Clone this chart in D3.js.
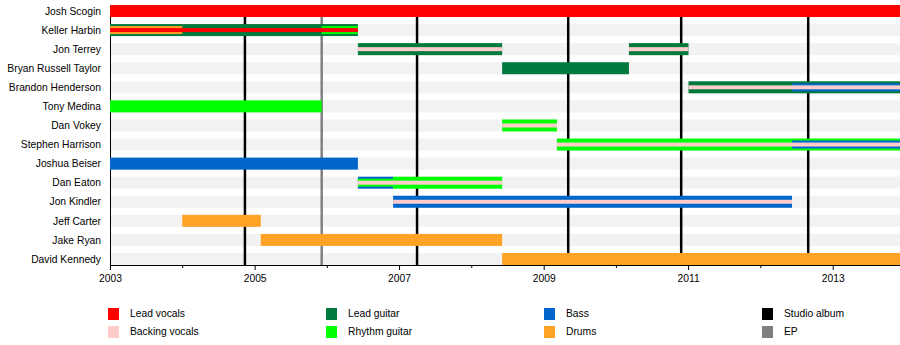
<!DOCTYPE html>
<html>
<head>
<meta charset="utf-8">
<script src="https://cdn.jsdelivr.net/npm/d3@7"></script>
<style>
html,body{margin:0;padding:0;background:#fff;}
svg{display:block;font-family:"Liberation Sans",Arial,Helvetica,sans-serif;}
</style>
</head>
<body>
<svg id="chart" width="900" height="345"></svg>
<script>
// ---- data ----
const members = ["Josh Scogin","Keller Harbin","Jon Terrey","Bryan Russell Taylor","Brandon Henderson",
  "Tony Medina","Dan Vokey","Stephen Harrison","Joshua Beiser","Dan Eaton","Jon Kindler",
  "Jeff Carter","Jake Ryan","David Kennedy"];
const roles = ["Lead vocals","Backing vocals","Lead guitar","Rhythm guitar","Bass","Drums"];
const eventTypes = ["Studio album","EP"];
const timelineStart = "2003-01-01";
const timelineEnd = "2013-12-07";
// [member, role, from, till, layer]  layer 0 = main role, 1 = secondary, 2 = tertiary
const periods = [
  ["Josh Scogin","Lead vocals","2003-01-01","2013-12-07",0],
  ["Keller Harbin","Lead guitar","2003-01-01","2006-06-07",0],
  ["Keller Harbin","Drums","2003-01-01","2004-01-01",1],
  ["Keller Harbin","Rhythm guitar","2005-12-06","2006-06-07",1],
  ["Keller Harbin","Lead vocals","2003-01-01","2006-06-07",2],
  ["Jon Terrey","Lead guitar","2006-06-07","2008-06-05",0],
  ["Jon Terrey","Backing vocals","2006-06-07","2008-06-05",2],
  ["Jon Terrey","Lead guitar","2010-03-08","2011-01-03",0],
  ["Jon Terrey","Backing vocals","2010-03-08","2011-01-03",2],
  ["Bryan Russell Taylor","Lead guitar","2008-06-05","2010-03-08",0],
  ["Brandon Henderson","Lead guitar","2011-01-03","2013-12-07",0],
  ["Brandon Henderson","Bass","2012-06-09","2013-12-07",1],
  ["Brandon Henderson","Backing vocals","2011-01-03","2013-12-07",2],
  ["Tony Medina","Rhythm guitar","2003-01-01","2005-12-06",0],
  ["Dan Vokey","Rhythm guitar","2008-06-05","2009-03-09",0],
  ["Dan Vokey","Backing vocals","2008-06-05","2009-03-09",2],
  ["Stephen Harrison","Rhythm guitar","2009-03-09","2013-12-07",0],
  ["Stephen Harrison","Bass","2012-06-09","2013-12-07",1],
  ["Stephen Harrison","Backing vocals","2009-03-09","2013-12-07",2],
  ["Joshua Beiser","Bass","2003-01-01","2006-06-07",0],
  ["Dan Eaton","Bass","2006-06-07","2006-12-02",0],
  ["Dan Eaton","Rhythm guitar","2006-06-07","2006-12-02",1],
  ["Dan Eaton","Rhythm guitar","2006-12-02","2008-06-05",0],
  ["Dan Eaton","Backing vocals","2006-06-07","2008-06-05",2],
  ["Jon Kindler","Bass","2006-12-02","2012-06-09",0],
  ["Jon Kindler","Backing vocals","2006-12-02","2012-06-09",2],
  ["Jeff Carter","Drums","2004-01-01","2005-02-01",0],
  ["Jake Ryan","Drums","2005-02-01","2008-06-05",0],
  ["David Kennedy","Drums","2008-06-05","2013-12-07",0]
];
const releases = [
  ["2004-11-13","Studio album"],
  ["2005-12-06","EP"],
  ["2007-04-02","Studio album"],
  ["2009-05-05","Studio album"],
  ["2010-11-27","Studio album"],
  ["2012-08-30","Studio album"]
];
const tickYears = [2003,2004,2005,2006,2007,2008,2009,2010,2011,2012,2013];
const labelYears = [2003,2005,2007,2009,2011,2013];

// ---- styles ----
const roleColor = d3.scaleOrdinal().domain(roles)
  .range(["#ff0000","#ffcccc","#007a3d","#00ff00","#0066cc","#ffa326"]);
const eventColor = d3.scaleOrdinal().domain(eventTypes).range(["#000000","#808080"]);
const layerHeight = [12, 8, 4];

const parse = d3.timeParse("%Y-%m-%d");
const svg = d3.select("#chart");
const plot = {left:110, right:900, top:5, bottom:265};

const x = d3.scaleTime().domain([parse(timelineStart), parse(timelineEnd)]).range([plot.left, plot.right]);
const y = d3.scaleBand().domain(members).range([plot.top, plot.bottom]).paddingInner(92/248).paddingOuter(0).align(0);

// row stripes
svg.append("g").selectAll("rect").data(members).join("rect")
  .attr("x", plot.left).attr("width", plot.right - plot.left)
  .attr("y", d => y(d)).attr("height", y.bandwidth())
  .attr("fill", "#f2f2f2");

// release lines
svg.append("g").selectAll("line").data(releases).join("line")
  .attr("x1", d => x(parse(d[0]))).attr("x2", d => x(parse(d[0])))
  .attr("y1", plot.top).attr("y2", plot.bottom)
  .attr("stroke", d => eventColor(d[1])).attr("stroke-width", 2.5);

// left axis line
svg.append("line").attr("x1", plot.left + 0.5).attr("x2", plot.left + 0.5)
  .attr("y1", plot.top).attr("y2", plot.bottom).attr("stroke", "#000");

// bars
const rowCenter = m => y(m) + y.bandwidth() / 2;
const sorted = periods.slice().sort((a, b) => a[4] - b[4]);
svg.append("g").selectAll("rect").data(sorted).join("rect")
  .attr("x", d => x(parse(d[2])))
  .attr("width", d => x(parse(d[3])) - x(parse(d[2])))
  .attr("y", d => rowCenter(d[0]) - layerHeight[d[4]] / 2)
  .attr("height", d => layerHeight[d[4]])
  .attr("fill", d => roleColor(d[1]));

// member names
svg.append("g").selectAll("text").data(members).join("text")
  .attr("x", 101).attr("y", d => rowCenter(d) + 1)
  .attr("text-anchor", "end").attr("dominant-baseline", "middle")
  .attr("font-size", 10.3).attr("fill", "#000")
  .text(d => d);

// x axis
const axis = d3.axisBottom(x)
  .tickValues(tickYears.map(yr => new Date(yr, 0, 1)))
  .tickSize(3)
  .tickFormat(d => labelYears.includes(d.getFullYear()) ? d.getFullYear() : "");
const ax = svg.append("g").attr("transform", `translate(0,${plot.bottom})`).call(axis);
ax.select(".domain").attr("d", `M${plot.left},0.5H${plot.right}`).attr("stroke", "#000");
ax.selectAll(".tick line").attr("stroke", "#000")
  .attr("y2", d => labelYears.includes(d.getFullYear()) ? 5 : 3);
ax.selectAll(".tick text").attr("font-size", 10.3).attr("fill", "#000")
  .attr("font-family", "Liberation Sans, Arial, sans-serif").attr("y", 10);

// legend
const legendItems = [
  ...roles.map(r => ({label: r, color: roleColor(r)})),
  ...eventTypes.map(e => ({label: e, color: eventColor(e)}))
];
const lg = svg.append("g").selectAll("g").data(legendItems).join("g")
  .attr("transform", (d, i) => `translate(${108 + Math.floor(i / 2) * 218},${308 + (i % 2) * 18})`);
lg.append("rect").attr("width", 11).attr("height", 12).attr("fill", d => d.color);
lg.append("text").attr("x", 22).attr("y", 6.5).attr("dominant-baseline", "middle")
  .attr("font-size", 10.3).attr("fill", "#000").text(d => d.label);
</script>
</body>
</html>
